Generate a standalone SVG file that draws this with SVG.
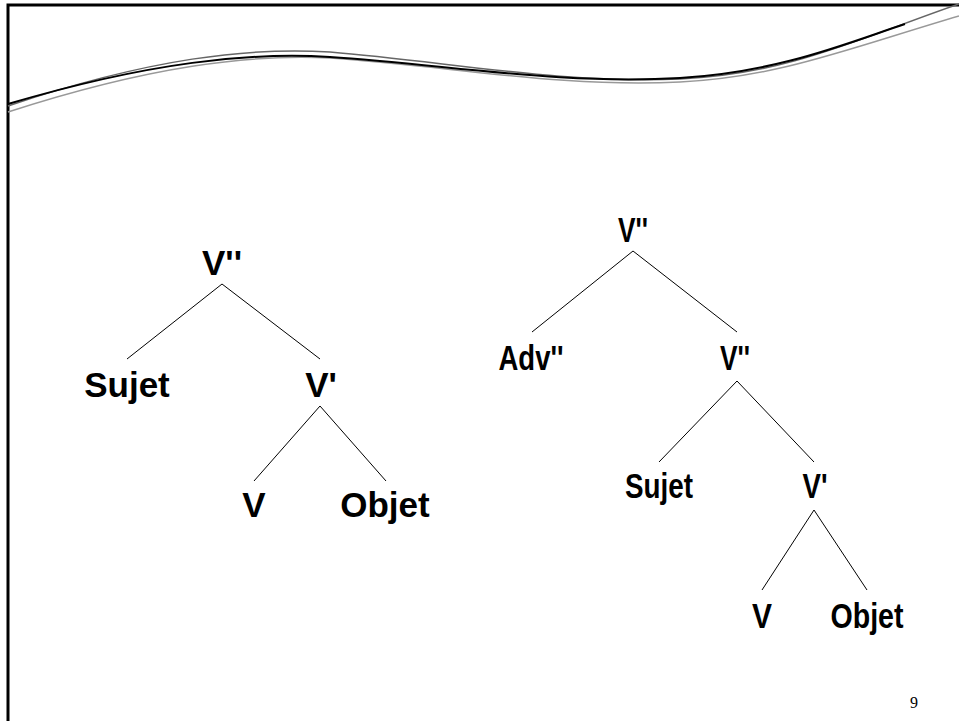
<svg xmlns="http://www.w3.org/2000/svg" width="959" height="721" viewBox="0 0 959 721">
<style>
.lbl{font-family:"Liberation Sans",Arial,sans-serif;font-weight:bold;font-size:35px;fill:#000;text-anchor:middle}
.edge{stroke:#000;stroke-width:1;fill:none}
.pg{font-family:"Liberation Serif","Times New Roman",serif;font-size:16px;fill:#000;text-anchor:middle}
</style>
<rect width="959" height="721" fill="#fff"/>
<g id="frame">
<path d="M8,721 V5 H959" fill="none" stroke="#000" stroke-width="3"/>
<path d="M8,112 C 150,66 250,54 330,58 C 450,66 560,88 680,82 C 780,77 850,48 959,16" fill="none" stroke="#999" stroke-width="1.5"/>
<path d="M8,106 C 150,58 250,47 330,52 C 450,62 560,84 680,79 C 790,74 860,38 959,4" fill="none" stroke="#666" stroke-width="1.5"/>
<path d="M8,104 C 150,62 250,52 330,57 C 450,65 560,85 680,78 C 780,72 850,42 905,24" fill="none" stroke="#000" stroke-width="2"/>
</g>
<g id="connectors">
<line class="edge" x1="222" y1="284" x2="127" y2="359"/>
<line class="edge" x1="222" y1="284" x2="320" y2="359"/>
<line class="edge" x1="320" y1="406" x2="254" y2="481"/>
<line class="edge" x1="320" y1="406" x2="386" y2="481"/>
<line class="edge" x1="633" y1="251" x2="532" y2="332"/>
<line class="edge" x1="633" y1="251" x2="737" y2="332"/>
<line class="edge" x1="737" y1="381" x2="659" y2="462"/>
<line class="edge" x1="737" y1="381" x2="814" y2="462"/>
<line class="edge" x1="814" y1="510" x2="762" y2="590"/>
<line class="edge" x1="814" y1="510" x2="867" y2="590"/>
</g>
<g id="t1-root"><text class="lbl" x="222" y="275">V''</text></g>
<g id="t1-sujet"><text class="lbl" x="127" y="397">Sujet</text></g>
<g id="t1-vbar"><text class="lbl" x="321" y="397">V'</text></g>
<g id="t1-v"><text class="lbl" x="254" y="517">V</text></g>
<g id="t1-objet"><text class="lbl" x="385" y="517">Objet</text></g>
<g id="t2-root"><text class="lbl" x="633" y="242" textLength="30" lengthAdjust="spacingAndGlyphs">V''</text></g>
<g id="t2-adv"><text class="lbl" x="531" y="370" textLength="65" lengthAdjust="spacingAndGlyphs">Adv''</text></g>
<g id="t2-v2"><text class="lbl" x="735" y="370" textLength="30" lengthAdjust="spacingAndGlyphs">V''</text></g>
<g id="t2-sujet"><text class="lbl" x="659" y="498" textLength="68" lengthAdjust="spacingAndGlyphs">Sujet</text></g>
<g id="t2-vbar"><text class="lbl" x="815" y="498" textLength="25" lengthAdjust="spacingAndGlyphs">V'</text></g>
<g id="t2-v"><text class="lbl" x="762" y="628" textLength="20" lengthAdjust="spacingAndGlyphs">V</text></g>
<g id="t2-objet"><text class="lbl" x="867" y="628" textLength="73" lengthAdjust="spacingAndGlyphs">Objet</text></g>
<g id="page"><text class="pg" x="914" y="708">9</text></g>
</svg>
